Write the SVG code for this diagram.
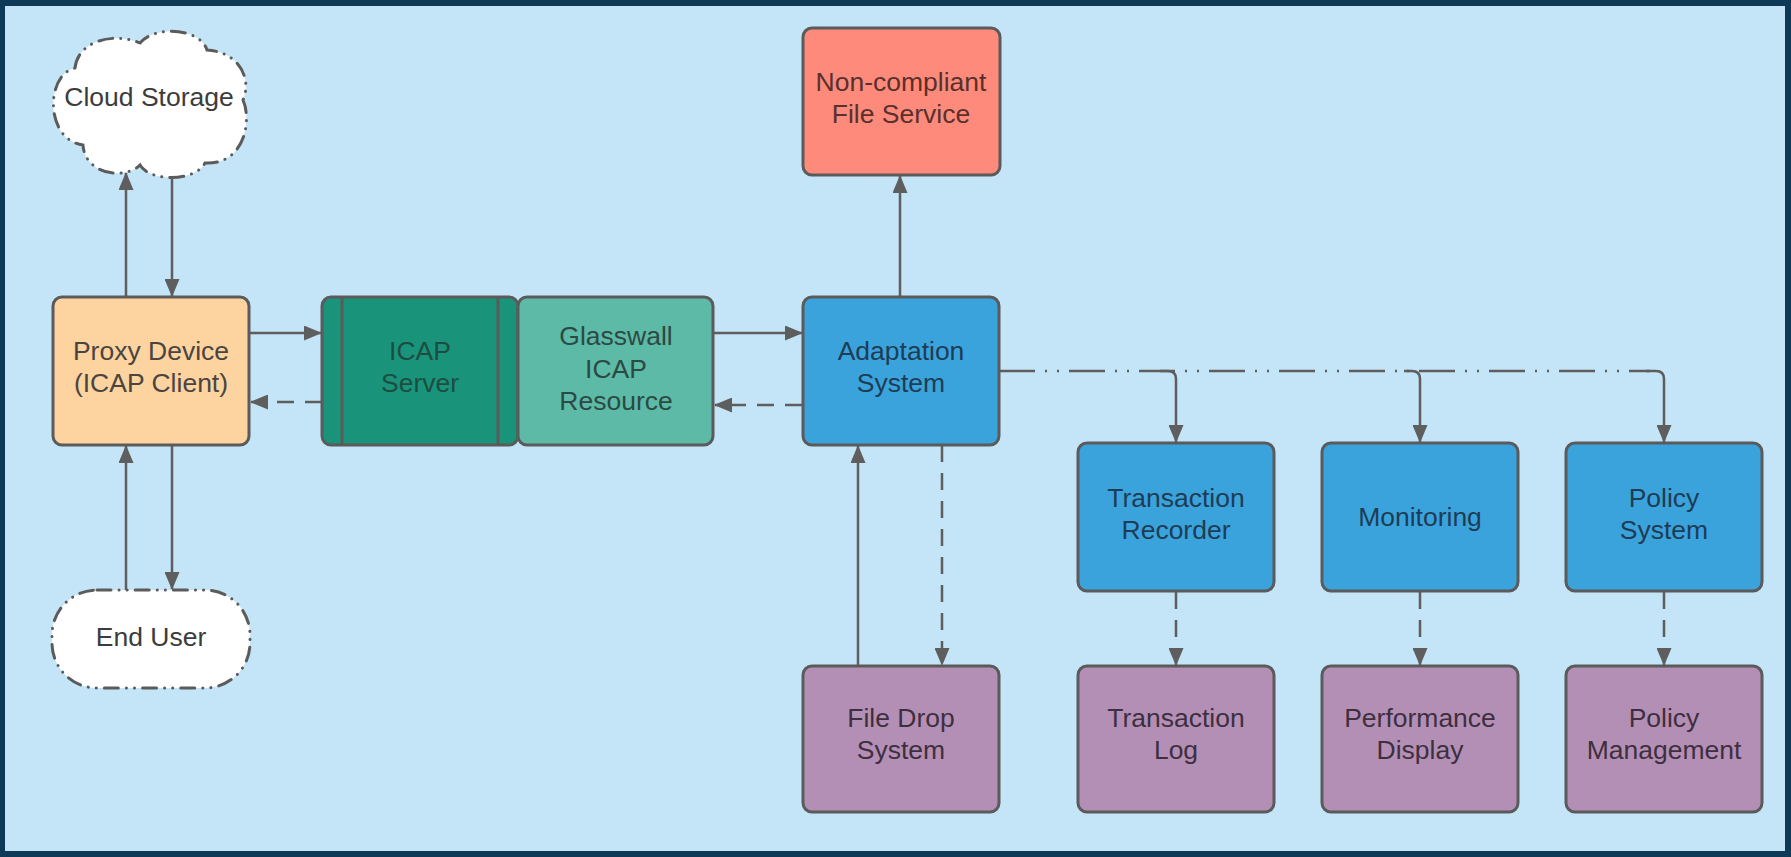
<svg xmlns="http://www.w3.org/2000/svg" width="1791" height="857" viewBox="0 0 1791 857">
<style>
.box{stroke:#5b5b5b;stroke-width:3}
.t{font-family:"Liberation Sans",Arial,sans-serif;font-size:26.5px;text-anchor:middle}
.ln{fill:none;stroke:#5e5e5e;stroke-width:2.5}
.dash{stroke-dasharray:17 11}
.dd{stroke-dasharray:36 10 2 10 2 10}
.odd{fill:#fff;stroke:#5b5b5b;stroke-width:3;stroke-dasharray:14 8 0.1 8 0.1 8;stroke-linecap:round}
</style>
<defs>
<marker id="ah" markerUnits="userSpaceOnUse" markerWidth="18" markerHeight="15" refX="17" refY="7.5" orient="auto">
<path d="M0,0 L18,7.5 L0,15 z" fill="#5e5e5e"/>
</marker>
</defs>
<rect x="0" y="0" width="1791" height="857" fill="#0e3a58"/>
<rect x="5" y="6" width="1780" height="845" fill="#c4e4f7"/>

<g id="connectors">
<path class="ln" d="M126,297 V173" marker-end="url(#ah)"/>
<path class="ln" d="M172,177 V296" marker-end="url(#ah)"/>
<path class="ln" d="M126,590 V446" marker-end="url(#ah)"/>
<path class="ln" d="M172,445 V589" marker-end="url(#ah)"/>
<path class="ln" d="M249,333 H321" marker-end="url(#ah)"/>
<path class="ln dash" d="M322,402 H251" marker-end="url(#ah)"/>
<path class="ln" d="M713,333 H802" marker-end="url(#ah)"/>
<path class="ln dash" d="M802,405 H715" marker-end="url(#ah)"/>
<path class="ln" d="M900,297 V176" marker-end="url(#ah)"/>
<path class="ln dd" d="M999,371 H1650"/>
<path class="ln" d="M1160,371 H1168 Q1176,371 1176,379 V442" marker-end="url(#ah)"/>
<path class="ln" d="M1404,371 H1412 Q1420,371 1420,379 V442" marker-end="url(#ah)"/>
<path class="ln" d="M1646,371 H1656 Q1664,371 1664,379 V442" marker-end="url(#ah)"/>
<path class="ln" d="M858,666 V446" marker-end="url(#ah)"/>
<path class="ln dash" d="M942,445 V665" marker-end="url(#ah)"/>
<path class="ln dash" d="M1176,592 V665" marker-end="url(#ah)"/>
<path class="ln dash" d="M1420,592 V665" marker-end="url(#ah)"/>
<path class="ln dash" d="M1664,592 V665" marker-end="url(#ah)"/>
</g>

<g id="cloud-storage">
<path class="odd" d="M75,68 C78,40 115,32 140,43 C155,25 200,28 207,50 C240,52 252,80 243,100 C252,120 245,165 205,163 C195,182 150,182 140,165 C125,180 85,175 83,145 C45,140 45,75 75,68 Z"/>
<text class="t" x="149" y="106" fill="#3c3c3c">Cloud Storage</text>
</g>

<g id="proxy-device">
<rect class="box" x="53" y="297" width="196" height="148" rx="9" fill="#fdd3a0"/>
<text class="t" fill="#4a4540"><tspan x="151" y="360">Proxy Device</tspan><tspan x="151" y="392">(ICAP Client)</tspan></text>
</g>

<g id="end-user">
<rect class="odd" x="52" y="590" width="198" height="98" rx="45"/>
<text class="t" x="151" y="646" fill="#3c3c3c">End User</text>
</g>

<g id="icap-server">
<rect class="box" x="322" y="297" width="196" height="148" rx="9" fill="#19937a"/>
<line x1="342" y1="297" x2="342" y2="445" stroke="#5b5b5b" stroke-width="3"/>
<line x1="498" y1="297" x2="498" y2="445" stroke="#5b5b5b" stroke-width="3"/>
<text class="t" fill="#1d4d42"><tspan x="420" y="360">ICAP</tspan><tspan x="420" y="392">Server</tspan></text>
</g>

<g id="glasswall-icap-resource">
<rect class="box" x="518" y="297" width="195" height="148" rx="9" fill="#5cbaa6"/>
<text class="t" fill="#2c4a44"><tspan x="616" y="345">Glasswall</tspan><tspan x="616" y="378">ICAP</tspan><tspan x="616" y="410">Resource</tspan></text>
</g>

<g id="non-compliant-file-service">
<rect class="box" x="803" y="28" width="197" height="147" rx="9" fill="#fe8a7b"/>
<text class="t" fill="#5a302c"><tspan x="901" y="91">Non-compliant</tspan><tspan x="901" y="123">File Service</tspan></text>
</g>

<g id="adaptation-system">
<rect class="box" x="803" y="297" width="196" height="148" rx="9" fill="#3aa3dc"/>
<text class="t" fill="#1e3d55"><tspan x="901" y="360">Adaptation</tspan><tspan x="901" y="392">System</tspan></text>
</g>

<g id="transaction-recorder">
<rect class="box" x="1078" y="443" width="196" height="148" rx="9" fill="#3aa3dc"/>
<text class="t" fill="#1e3d55"><tspan x="1176" y="507">Transaction</tspan><tspan x="1176" y="539">Recorder</tspan></text>
</g>

<g id="monitoring">
<rect class="box" x="1322" y="443" width="196" height="148" rx="9" fill="#3aa3dc"/>
<text class="t" x="1420" y="526" fill="#1e3d55">Monitoring</text>
</g>

<g id="policy-system">
<rect class="box" x="1566" y="443" width="196" height="148" rx="9" fill="#3aa3dc"/>
<text class="t" fill="#1e3d55"><tspan x="1664" y="507">Policy</tspan><tspan x="1664" y="539">System</tspan></text>
</g>

<g id="file-drop-system">
<rect class="box" x="803" y="666" width="196" height="146" rx="9" fill="#b48fb5"/>
<text class="t" fill="#3e2f40"><tspan x="901" y="727">File Drop</tspan><tspan x="901" y="759">System</tspan></text>
</g>

<g id="transaction-log">
<rect class="box" x="1078" y="666" width="196" height="146" rx="9" fill="#b48fb5"/>
<text class="t" fill="#3e2f40"><tspan x="1176" y="727">Transaction</tspan><tspan x="1176" y="759">Log</tspan></text>
</g>

<g id="performance-display">
<rect class="box" x="1322" y="666" width="196" height="146" rx="9" fill="#b48fb5"/>
<text class="t" fill="#3e2f40"><tspan x="1420" y="727">Performance</tspan><tspan x="1420" y="759">Display</tspan></text>
</g>

<g id="policy-management">
<rect class="box" x="1566" y="666" width="196" height="146" rx="9" fill="#b48fb5"/>
<text class="t" fill="#3e2f40"><tspan x="1664" y="727">Policy</tspan><tspan x="1664" y="759">Management</tspan></text>
</g>
</svg>
